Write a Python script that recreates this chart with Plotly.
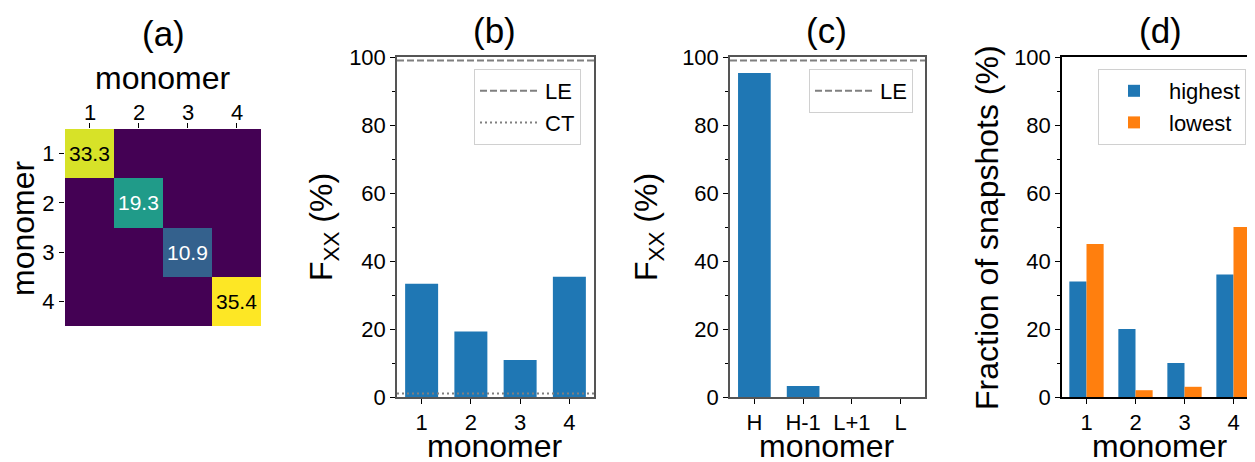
import plotly.graph_objects as go

# ---------------- data ----------------
monomers = [1, 2, 3, 4]
heat_diag = [33.3, 19.3, 10.9, 35.4]          # panel (a) diagonal values
fxx_b = [33.3, 19.3, 10.9, 35.4]              # panel (b)
le_level_b = 99.0
ct_level_b = 1.0
orbitals = ["H", "H-1", "L+1", "L"]           # panel (c)
fxx_c = [95.3, 3.2, 0.0, 0.0]
le_level_c = 99.0
highest = [34, 20, 10, 36]                    # panel (d)
lowest = [45, 2, 3, 50]

W, H = 1255, 462
OFF = 8  # page body margin of the html page
FONT = "Liberation Sans, Arial, sans-serif"
BLUE = "#1f77b4"
ORANGE = "#ff7f0e"
TICK_FS = 22
LABEL_FS = 32
TITLE_FS = 35


def px_x(p):
    return (p - OFF) / W


def px_y(p):
    return 1 - (p - OFF) / H


fig = go.Figure()

# ---------------- panel (a) heatmap ----------------
z = [[heat_diag[i] if i == j else 0.0 for j in range(4)] for i in range(4)]
fig.add_trace(go.Heatmap(
    z=z, x=monomers, y=monomers, colorscale="Viridis", zmin=0, zmax=max(heat_diag),
    showscale=False, xaxis="x", yaxis="y", hoverinfo="skip", xgap=0, ygap=0))

annotations = []
for i, v in enumerate(heat_diag):
    annotations.append(dict(
        x=monomers[i], y=monomers[i], xref="x", yref="y", text=f"{v:.1f}",
        showarrow=False, font=dict(size=21, family=FONT,
                                   color="black" if v > 0.6 * max(heat_diag) else "white")))
# top tick labels of the heatmap (placed on the x axis positions)
for m in monomers:
    annotations.append(dict(
        x=m, y=px_y(112), xref="x", yref="paper", text=str(m), showarrow=False,
        xanchor="center", yanchor="middle",
        font=dict(size=TICK_FS, family=FONT, color="black")))

# ---------------- panel (b) ----------------
fig.add_trace(go.Bar(x=monomers, y=fxx_b, width=0.67, marker_color=BLUE,
                     marker_line_width=0, xaxis="x2", yaxis="y2", showlegend=False))
fig.add_trace(go.Scatter(x=[0.5, 4.5], y=[le_level_b] * 2, mode="lines", name="LE",
                         line=dict(color="#808080", dash="7px,3px", width=2),
                         xaxis="x2", yaxis="y2", legend="legend", legendgroup="le"))
fig.add_trace(go.Scatter(x=[0.5, 4.5], y=[ct_level_b] * 2, mode="lines", name="CT",
                         line=dict(color="#808080", dash="2px,3px", width=2),
                         xaxis="x2", yaxis="y2", legend="legend", legendgroup="ct"))

# ---------------- panel (c) ----------------
pos_c = list(range(len(orbitals)))
fig.add_trace(go.Bar(x=pos_c, y=fxx_c, width=0.67, marker_color=BLUE,
                     marker_line_width=0, xaxis="x3", yaxis="y3", showlegend=False))
fig.add_trace(go.Scatter(x=[-0.5, 3.5], y=[le_level_c] * 2, mode="lines", name="LE",
                         line=dict(color="#808080", dash="7px,3px", width=2),
                         xaxis="x3", yaxis="y3", legend="legend2"))

# ---------------- panel (d) ----------------
fig.add_trace(go.Bar(x=monomers, y=highest, width=0.35, offset=-0.35, marker_color=BLUE,
                     marker_line_width=0, name="highest", xaxis="x4", yaxis="y4",
                     legend="legend3", legendgroup="hi"))
fig.add_trace(go.Bar(x=monomers, y=lowest, width=0.35, offset=0.0, marker_color=ORANGE,
                     marker_line_width=0, name="lowest", xaxis="x4", yaxis="y4",
                     legend="legend3", legendgroup="lo"))

tickfont = dict(size=TICK_FS, family=FONT, color="black")

# axis domains (pixels in the screenshot)
dom_a_x = [px_x(65), px_x(261)]
dom_a_y = [px_y(326), px_y(129)]
dom_b_x = [px_x(397), px_x(594)]
dom_c_x = [px_x(730), px_x(925)]
dom_d_x = [px_x(1062), px_x(1255)]
dom_bar_y = [px_y(397), px_y(57)]

yaxis_common = dict(range=[0, 100], tickvals=[0, 20, 40, 60, 80, 100], ticks="outside",
                    ticklen=5, tickwidth=1.2, tickfont=tickfont, showgrid=False,
                    zeroline=False, showline=True, linewidth=1.5, automargin=False,
                    minor=dict(ticks="outside", ticklen=3, tickwidth=1, dtick=10,
                               tickcolor="black", showgrid=False))

legend_common = dict(xanchor="right", yanchor="top", bgcolor="white",
                     bordercolor="#d0d0d0", borderwidth=1, itemwidth=60,
                     tracegroupgap=0,
                     font=dict(size=22, family=FONT, color="black"))

fig.update_layout(
    template="none",
    width=W, height=H, autosize=False,
    margin=dict(l=0, r=0, t=0, b=0, pad=0),
    paper_bgcolor="white", plot_bgcolor="white",
    font=dict(family=FONT, color="black"),
    barmode="overlay",
    xaxis=dict(domain=dom_a_x, range=[0.5, 4.5], side="top", tickvals=monomers,
               ticks="outside", ticklen=5, tickcolor="black", showticklabels=False,
               showgrid=False, zeroline=False, showline=False, anchor="y",
               automargin=False),
    yaxis=dict(domain=dom_a_y, range=[4.5, 0.5], tickvals=monomers, ticks="outside",
               ticklen=5, tickcolor="black", tickfont=tickfont, showgrid=False,
               zeroline=False, showline=False, anchor="x", automargin=False),
    xaxis2=dict(domain=dom_b_x, range=[0.5, 4.5], tickvals=monomers, ticks="outside",
                ticklen=5, tickcolor="black", tickfont=tickfont, showgrid=False,
                zeroline=False, showline=True, linecolor="#555", linewidth=1.5,
                mirror=True, anchor="y2", automargin=False),
    yaxis2=dict(domain=dom_bar_y, anchor="x2", linecolor="#555", mirror=True,
                tickcolor="black", **yaxis_common),
    xaxis3=dict(domain=dom_c_x, range=[-0.5, 3.5], tickvals=pos_c, ticktext=orbitals,
                ticks="outside", ticklen=5, tickcolor="black", tickfont=tickfont,
                showgrid=False, zeroline=False, showline=True, linecolor="#555",
                linewidth=1.5, mirror=True, anchor="y3", automargin=False),
    yaxis3=dict(domain=dom_bar_y, anchor="x3", linecolor="#555", mirror=True,
                tickcolor="black", **yaxis_common),
    xaxis4=dict(domain=dom_d_x, range=[0.5, 0.5 + (1255 - 1062) / 49.0], tickvals=monomers,
                ticks="outside", ticklen=5, tickcolor="black", tickfont=tickfont,
                showgrid=False, zeroline=False, showline=True, linecolor="black",
                linewidth=1.5, mirror=True, anchor="y4", automargin=False),
    yaxis4=dict(domain=dom_bar_y, anchor="x4", linecolor="black", mirror=False,
                tickcolor="black", **yaxis_common),
    legend=dict(x=px_x(581), y=px_y(69), **legend_common),
    legend2=dict(x=px_x(913), y=px_y(69), **legend_common),
    legend3=dict(x=px_x(1246), y=px_y(69), **legend_common),
)


def paper_text(text, xp, yp, angle=0, size=LABEL_FS):
    annotations.append(dict(text=text, x=px_x(xp), y=px_y(yp), xref="paper", yref="paper",
                            xanchor="center", yanchor="middle", showarrow=False,
                            textangle=angle, font=dict(size=size, family=FONT, color="black")))


# panel titles
paper_text("(a)", 163, 33, size=TITLE_FS)
paper_text("(b)", 495, 30, size=TITLE_FS)
paper_text("(c)", 827, 30, size=TITLE_FS)
paper_text("(d)", 1160, 30, size=TITLE_FS)
# axis labels
paper_text("monomer", 163, 78)
paper_text("monomer", 23, 228, angle=-90)
paper_text("monomer", 495, 446)
paper_text("monomer", 827, 446)
paper_text("monomer", 1160, 446)
paper_text("F<sub>XX</sub> (%)", 323, 227, angle=-90)
paper_text("F<sub>XX</sub> (%)", 648, 227, angle=-90)
paper_text("Fraction of snapshots (%)", 987, 227, angle=-90)

fig.update_layout(annotations=annotations)

fig.write_html("out.html")
